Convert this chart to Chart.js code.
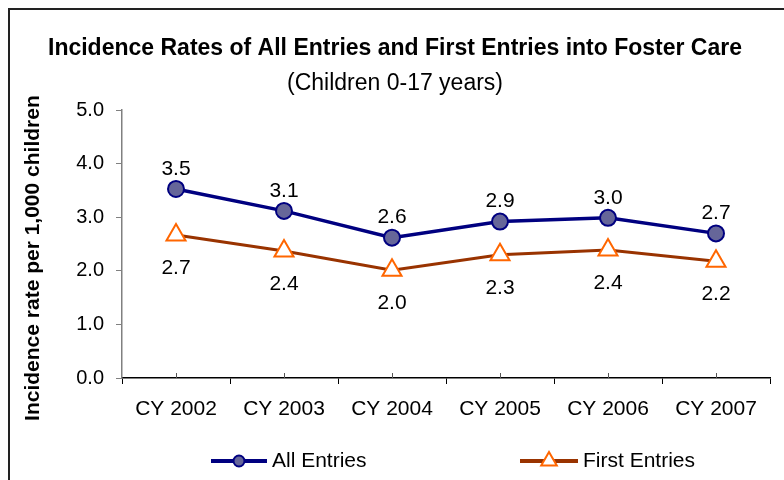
<!DOCTYPE html>
<html>
<head>
<meta charset="utf-8">
<script src="https://cdn.jsdelivr.net/npm/chart.js@4"></script>
<style>
  html, body { margin: 0; padding: 0; background: #fff; }
  #wrap { position: relative; width: 784px; height: 480px; overflow: hidden; }
  #frame { position: absolute; left: 8px; top: 8px; width: 800px; height: 500px; border-left: 2px solid #222; border-top: 2px solid #222; pointer-events: none; }
  canvas { position: absolute; left: 0; top: 0; }
</style>
</head>
<body>
<div id="wrap">
  <canvas id="c" width="784" height="480"></canvas>
  <div id="frame"></div>
</div>
<script>
const categories = ['CY 2002', 'CY 2003', 'CY 2004', 'CY 2005', 'CY 2006', 'CY 2007'];
const allEntries = [3.53, 3.12, 2.62, 2.92, 2.99, 2.70];
const firstEntries = [2.67, 2.37, 2.01, 2.30, 2.39, 2.18];
const seriesNames = ['All Entries', 'First Entries'];
const titleText = 'Incidence Rates of All Entries and First Entries into Foster Care';
const subtitleText = '(Children 0-17 years)';
const yTitleText = 'Incidence rate per 1,000 children';

const FONT = "'Liberation Sans', Arial, sans-serif";

const extras = {
  id: 'extras',
  afterDraw(chart) {
    const ctx = chart.ctx;
    const x = chart.scales.x, y = chart.scales.y;
    // inner center ticks on x axis
    ctx.save();
    ctx.strokeStyle = '#555';
    ctx.lineWidth = 1;
    categories.forEach((c, i) => {
      const px = Math.round(x.getPixelForValue(i)) + 0.5;
      ctx.beginPath();
      ctx.moveTo(px, y.bottom);
      ctx.lineTo(px, y.bottom - 5);
      ctx.stroke();
    });
    ctx.restore();

    // y axis title
    ctx.save();
    ctx.translate(33, (y.top + y.bottom) / 2 + 14);
    ctx.rotate(-Math.PI / 2);
    ctx.font = 'bold 21px ' + FONT;
    ctx.fillStyle = '#000';
    ctx.textAlign = 'center';
    ctx.textBaseline = 'middle';
    ctx.fillText(yTitleText, 0, 0);
    ctx.restore();

    // data labels
    ctx.save();
    ctx.font = '21px ' + FONT;
    ctx.fillStyle = '#000';
    ctx.textAlign = 'center';
    ctx.textBaseline = 'middle';
    chart.getDatasetMeta(0).data.forEach((pt, i) => {
      ctx.fillText(chart.data.datasets[0].data[i].toFixed(1), pt.x, pt.y - 20);
    });
    chart.getDatasetMeta(1).data.forEach((pt, i) => {
      ctx.fillText(chart.data.datasets[1].data[i].toFixed(1), pt.x, pt.y + 33);
    });
    ctx.restore();

    // legend
    const ly = 461;
    const items = [
      {x0: 211, x1: 267, ds: chart.data.datasets[0]},
      {x0: 520, x1: 578, ds: chart.data.datasets[1]}
    ];
    ctx.save();
    items.forEach((it, k) => {
      ctx.strokeStyle = it.ds.borderColor;
      ctx.lineWidth = 4;
      ctx.beginPath();
      ctx.moveTo(it.x0, ly);
      ctx.lineTo(it.x1, ly);
      ctx.stroke();
      const cx = (it.x0 + it.x1) / 2;
      ctx.fillStyle = it.ds.pointBackgroundColor;
      ctx.strokeStyle = it.ds.pointBorderColor;
      ctx.lineWidth = 2;
      ctx.beginPath();
      if (k === 0) {
        ctx.arc(cx, ly, 5.5, 0, Math.PI * 2);
      } else {
        const r = 9;
        ctx.moveTo(cx, ly - r);
        ctx.lineTo(cx + r * Math.sin(Math.PI / 3), ly + r * 0.5);
        ctx.lineTo(cx - r * Math.sin(Math.PI / 3), ly + r * 0.5);
        ctx.closePath();
      }
      ctx.fill();
      ctx.stroke();
      ctx.fillStyle = '#000';
      ctx.font = '21px ' + FONT;
      ctx.textAlign = 'left';
      ctx.textBaseline = 'middle';
      ctx.fillText(seriesNames[k], it.x1 + 5, ly);
    });
    ctx.restore();
  }
};

new Chart(document.getElementById('c'), {
  type: 'line',
  data: {
    labels: categories,
    datasets: [
      {
        label: seriesNames[0],
        data: allEntries,
        borderColor: '#000080',
        borderWidth: 3.5,
        pointStyle: 'circle',
        pointRadius: 8,
        pointBorderWidth: 2,
        pointBackgroundColor: '#666699',
        pointBorderColor: '#000080',
        tension: 0
      },
      {
        label: seriesNames[1],
        data: firstEntries,
        borderColor: '#993300',
        borderWidth: 3,
        pointStyle: 'triangle',
        pointRadius: 11,
        pointBorderWidth: 2,
        pointBackgroundColor: '#ffffff',
        pointBorderColor: '#FF6600',
        tension: 0
      }
    ]
  },
  options: {
    responsive: false,
    animation: false,
    devicePixelRatio: 1,
    layout: { padding: { left: 20, right: 14, top: 0, bottom: 52 } },
    plugins: {
      legend: { display: false },
      tooltip: { enabled: false },
      title: {
        display: true,
        text: titleText,
        color: '#000',
        font: { family: FONT, size: 23, weight: 'bold', lineHeight: 1.2 },
        padding: { top: 35, bottom: 7 }
      },
      subtitle: {
        display: true,
        text: subtitleText,
        color: '#000',
        font: { family: FONT, size: 23, weight: 'normal', lineHeight: 1.2 },
        padding: { top: 0, bottom: 13 }
      }
    },
    scales: {
      x: {
        type: 'category',
        offset: true,
        grid: { offset: true, drawOnChartArea: false, tickLength: 6, color: '#000', lineWidth: 1 },
        border: { color: '#000', width: 1.5 },
        ticks: { color: '#000', padding: 13, font: { family: FONT, size: 21 }, maxRotation: 0, autoSkip: false },
        afterFit(s) { s.height = 50; }
      },
      y: {
        min: 0,
        max: 5,
        grid: { drawOnChartArea: false, tickLength: 6, color: '#808080' },
        border: { color: '#808080', width: 1.5 },
        ticks: {
          stepSize: 1,
          color: '#000',
          padding: 12,
          font: { family: FONT, size: 20 },
          callback: v => Number(v).toFixed(1)
        },
        title: { display: false },
        afterFit(s) { s.width = 102; }
      }
    }
  },
  plugins: [extras]
});
</script>
</body>
</html>
